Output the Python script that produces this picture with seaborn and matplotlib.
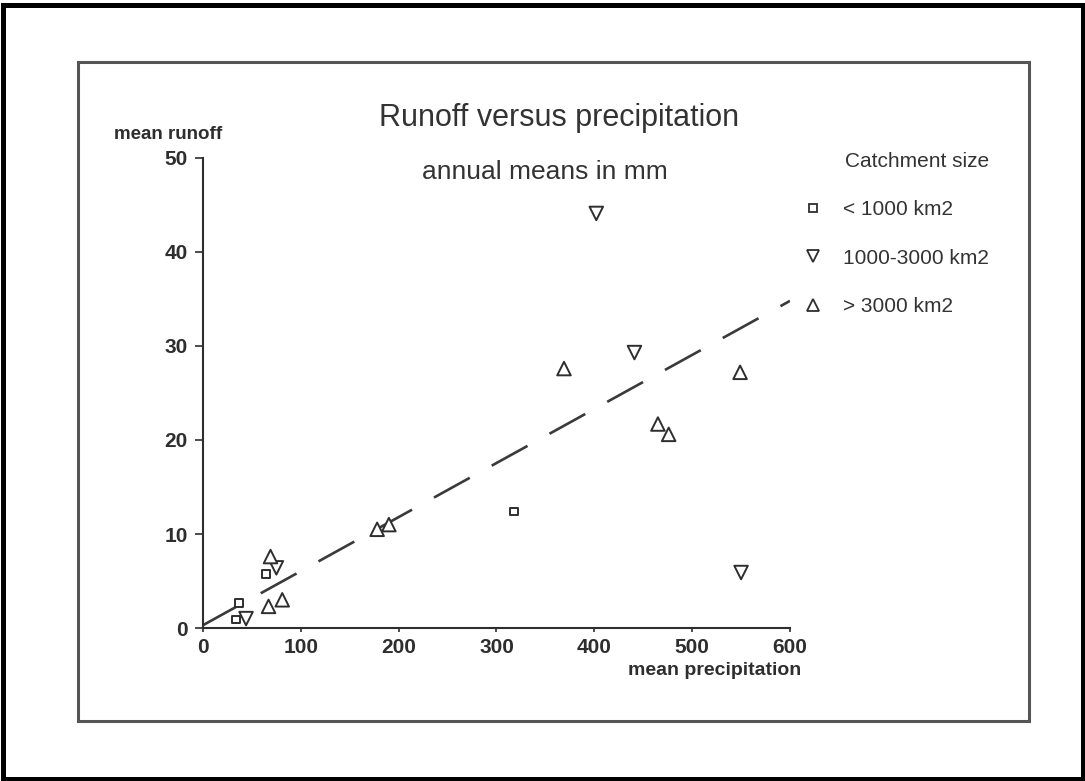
import pandas as pd
import matplotlib
matplotlib.use("Agg")
import matplotlib.pyplot as plt
import seaborn as sns
from matplotlib.lines import Line2D
from matplotlib.patches import Rectangle

# values (annual means in mm)
small_precip = [37, 34, 64, 318]
small_runoff = [2.7, 0.9, 5.7, 12.4]
mid_precip = [44, 75, 402, 441, 550]
mid_runoff = [1.0, 6.4, 44.1, 29.3, 5.9]
large_precip = [69, 67, 81, 178, 190, 369, 465, 476, 549]
large_runoff = [7.6, 2.3, 3.0, 10.5, 11.0, 27.6, 21.7, 20.6, 27.2]
size_classes = ["< 1000 km2", "1000-3000 km2", "> 3000 km2"]

trend_precip = [0, 600]
trend_runoff = [0.3, 34.8]

x_ticks = [0, 100, 200, 300, 400, 500, 600]
y_ticks = [0, 10, 20, 30, 40, 50]

df = pd.DataFrame({
    "precip": small_precip + mid_precip + large_precip,
    "runoff": small_runoff + mid_runoff + large_runoff,
    "catchment": [size_classes[0]] * len(small_precip)
    + [size_classes[1]] * len(mid_precip)
    + [size_classes[2]] * len(large_precip),
})

sns.set_style("ticks")
plt.rcParams["font.family"] = ["Liberation Sans", "DejaVu Sans"]

ink = "#2e2e2e"
markers = {size_classes[0]: "s", size_classes[1]: "v", size_classes[2]: "^"}
sizes = {size_classes[0]: 32, size_classes[1]: 95, size_classes[2]: 95}

fig = plt.figure(figsize=(10.85, 7.81), dpi=100)
ax = fig.add_axes([0.1871, 0.1959, 0.541, 0.6018])

sns.scatterplot(data=df, x="precip", y="runoff", style="catchment",
                size="catchment", markers=markers, sizes=sizes,
                color="white", edgecolor=ink, linewidth=1.4,
                legend=False, ax=ax, zorder=3)

# fitted line
ax.plot(trend_precip, trend_runoff, color="#3a3a3a", lw=1.9,
        linestyle=(0, (15.5, 9.5)), zorder=2)

ax.set_xlim(0, 600)
ax.set_ylim(0, 50)
ax.set_xticks(x_ticks)
ax.set_yticks(y_ticks)
ax.set_xlabel("")
ax.set_ylabel("")
ax.tick_params(axis="both", colors=ink, labelsize=15, width=1.2)
ax.tick_params(axis="y", length=6, pad=5)
ax.tick_params(axis="x", length=3, pad=4)
for lbl in ax.get_xticklabels() + ax.get_yticklabels():
    lbl.set_fontweight("bold")
    lbl.set_color(ink)
sns.despine(ax=ax)
for side in ["left", "bottom"]:
    ax.spines[side].set_color(ink)
    ax.spines[side].set_linewidth(1.5)

# titles and axis captions
fig.text(0.515, 0.8495, "Runoff versus precipitation", ha="center",
         va="center", fontsize=22, color="#333333")
fig.text(0.502, 0.780, "annual means in mm", ha="center", va="center",
         fontsize=19, color="#333333")
fig.text(0.155, 0.828, "mean runoff", ha="center", va="center",
         fontsize=13.5, fontweight="bold", color=ink)
fig.text(0.659, 0.142, "mean precipitation", ha="center", va="center",
         fontsize=14, fontweight="bold", color=ink)

# legend
handles = [Line2D([], [], ls="none", marker=markers[c],
                  markersize=5.5 if markers[c] == "s" else 9,
                  mfc="white", mec=ink, mew=1.3) for c in size_classes]
leg = fig.legend(handles, size_classes, loc="upper left",
                 bbox_to_anchor=(0.737, 0.805), frameon=False,
                 title="Catchment size", alignment="right", fontsize=15,
                 title_fontsize=15, labelspacing=1.4, handletextpad=0.8,
                 handlelength=1.3, borderpad=0, borderaxespad=0)
for t in leg.get_texts():
    t.set_color("#333333")
leg.get_title().set_color("#333333")

# page frames of the scan
fig.patches.append(Rectangle((3 / 1085, 2 / 781), 1080 / 1085, 774.5 / 781,
                             transform=fig.transFigure, fill=False,
                             ec="black", lw=3.6))
fig.patches.append(Rectangle((78 / 1085, 60 / 781), 951 / 1085, 659 / 781,
                             transform=fig.transFigure, fill=False,
                             ec="#555555", lw=2.2))

fig.savefig("out.png", dpi=100)
plt.close(fig)
